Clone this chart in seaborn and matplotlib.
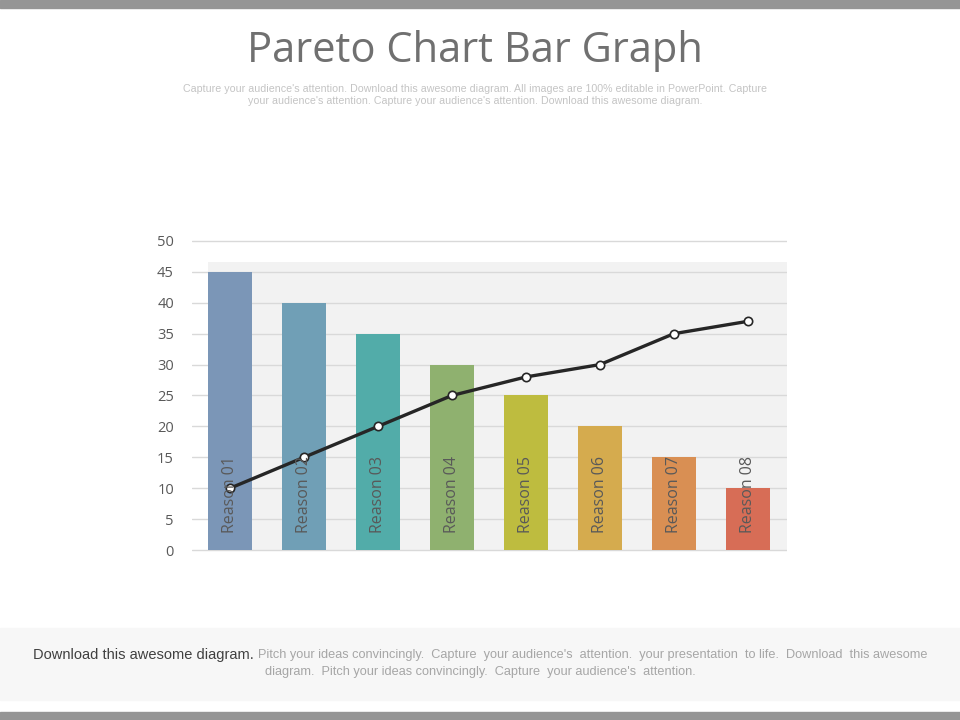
import numpy as np
import pandas as pd
import matplotlib
matplotlib.use("Agg")
import matplotlib.pyplot as plt
from matplotlib.patches import Rectangle
import seaborn as sns

# ── data ──────────────────────────────────────────────────────
reasons = ["Reason 01", "Reason 02", "Reason 03", "Reason 04",
           "Reason 05", "Reason 06", "Reason 07", "Reason 08"]
bar_values = [45, 40, 35, 30, 25, 20, 15, 10]
line_values = [10, 15, 20, 25, 28, 30, 35, 37]
y_ticks = [0, 5, 10, 15, 20, 25, 30, 35, 40, 45, 50]
bar_colors = ["#7b96b7", "#709fb6", "#52aca9", "#8fb16f",
              "#bebc3f", "#d5ab4e", "#d98f53", "#d76d56"]

title = "Pareto Chart Bar Graph"
subtitle = ("Capture your audience's attention. Download this awesome diagram. All images are 100% "
            "editable in PowerPoint. Capture\nyour audience's attention. Capture your audience's "
            "attention. Download this awesome diagram.")
footer_dark = "Download this awesome diagram."
footer_light_1 = ("Pitch your ideas convincingly.  Capture  your audience's  attention.  your presentation  "
                  "to life.  Download  this awesome")
footer_light_2 = "diagram.  Pitch your ideas convincingly.  Capture  your audience's  attention."

df = pd.DataFrame({"reason": reasons, "count": bar_values, "cum": line_values})

# ── figure ────────────────────────────────────────────────────
sns.set_style("white")
plt.rcParams["font.family"] = ["Open Sans", "DejaVu Sans"]

fig = plt.figure(figsize=(9.6, 7.2), dpi=100)

# top / bottom frame bars and footer band
fig.patches.append(Rectangle((0, 1 - 8 / 720), 1, 8 / 720, transform=fig.transFigure,
                             color="#959595", zorder=0))
fig.patches.append(Rectangle((0, 0), 1, 8 / 720, transform=fig.transFigure,
                             color="#959595", zorder=0))
fig.patches.append(Rectangle((0, 20 / 720), 1, 72 / 720, transform=fig.transFigure,
                             color="#f7f7f7", zorder=0))

ax = fig.add_axes([0.2, 0.2318, 0.6198, 0.4378])
bar_w = 0.6

# gray plot area behind the bars
ax.add_patch(Rectangle((-bar_w / 2, 0), 7.53 + bar_w / 2, 46.6,
                       facecolor="#f2f2f2", edgecolor="none", zorder=0))

for t in y_ticks:
    ax.axhline(t, color="#d9d9d9", lw=1, zorder=0.5)

sns.barplot(data=df, x="reason", y="count", hue="reason", palette=bar_colors,
            legend=False, width=bar_w, saturation=1, linewidth=0, edgecolor="none",
            ax=ax, zorder=2)

xs = np.arange(len(reasons))
sns.lineplot(x=xs, y=df["cum"], color="#262626", lw=2.4, marker="o", markersize=6,
             markerfacecolor="white", markeredgecolor="#262626", markeredgewidth=1.2,
             ax=ax, zorder=4)

for i, name in enumerate(reasons):
    ax.text(i, 2.7, name, rotation=90, ha="center", va="bottom", fontsize=11.5,
            color="#595959", zorder=5)

ax.set_xlim(-0.514, 7.53)
ax.set_ylim(-0.5, 50.5)
ax.set_yticks(y_ticks)
ax.set_yticklabels([str(t) for t in y_ticks], fontsize=10.5, color="#595959")
ax.set_xticks([])
ax.set_xlabel("")
ax.set_ylabel("")
ax.tick_params(axis="y", length=0, pad=13)
for s in ax.spines.values():
    s.set_visible(False)
ax.patch.set_alpha(0)

# ── texts ─────────────────────────────────────────────────────
fig.text(0.495, 1 - 51 / 720, title, ha="center", va="center", fontsize=30,
         color="#707070")
fig.text(0.495, 1 - 95 / 720, subtitle, ha="center", va="center", fontsize=7.7,
         color="#c4c4c4", linespacing=1.15,
         family=["Liberation Sans Narrow", "Liberation Sans", "DejaVu Sans"])

narrow = ["Liberation Sans Narrow", "Liberation Sans", "DejaVu Sans"]
fig.text(33 / 960, 1 - 655 / 720, footer_dark, ha="left", va="center", fontsize=10.5,
         color="#404040", family=narrow)
fig.text(927 / 960, 1 - 655 / 720, footer_light_1, ha="right", va="center", fontsize=9.15,
         color="#a6a6a6", family=narrow)
fig.text(0.5, 1 - 672 / 720, footer_light_2, ha="center", va="center", fontsize=9.2,
         color="#a6a6a6", family=narrow)

fig.savefig("out.png", dpi=100)
